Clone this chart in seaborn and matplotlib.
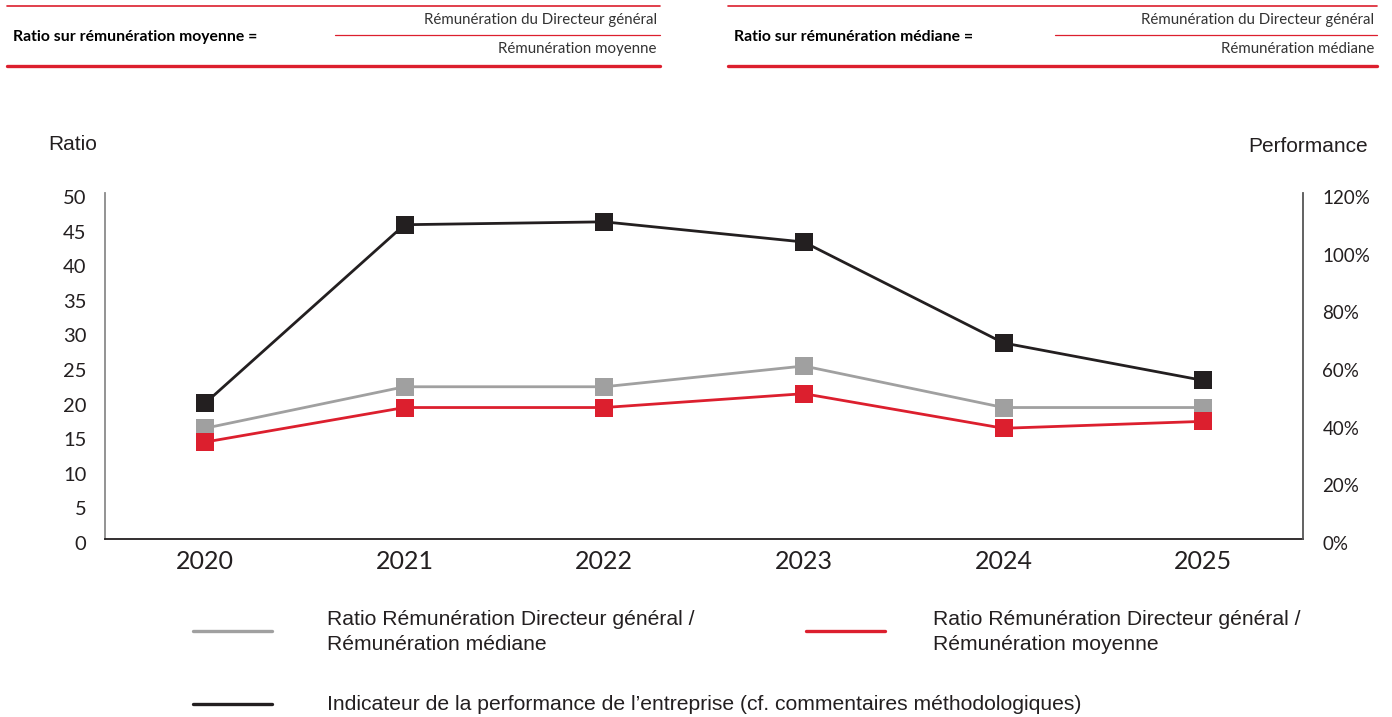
import matplotlib
matplotlib.use("Agg")
import matplotlib.pyplot as plt
import seaborn as sns
from matplotlib.lines import Line2D
from matplotlib.transforms import ScaledTranslation
from matplotlib.ticker import FuncFormatter

# données
annees = ["2020", "2021", "2022", "2023", "2024", "2025"]
ratio_mediane = [16, 22, 22, 25, 19, 19]
ratio_moyenne = [14, 19, 19, 21, 16, 17]
performance = [47, 109, 110, 103, 68, 55]  # en %

gris = "#a0a0a0"
rouge = "#dc1f2e"
noir = "#231f20"

sns.set_style("white")
plt.rcParams["font.family"] = ["Lato", "DejaVu Sans"]

W, H = 1392, 717
fig = plt.figure(figsize=(W / 100, H / 100), dpi=100)


def fx(px):
    return px / W


def fy(py):
    return 1 - py / H


ax = fig.add_axes([fx(105), fy(539), fx(1303) - fx(105), fy(193) - fy(539)])
ax2 = ax.twinx()

sns.lineplot(x=annees, y=ratio_mediane, ax=ax, color=gris, lw=2.0,
             marker="s", markersize=13, markeredgewidth=0, sort=False)
sns.lineplot(x=annees, y=ratio_moyenne, ax=ax, color=rouge, lw=2.0,
             marker="s", markersize=13, markeredgewidth=0, sort=False)
sns.lineplot(x=annees, y=performance, ax=ax2, color=noir, lw=2.0,
             marker="s", markersize=13, markeredgewidth=0, sort=False)

ax.set_xlim(-0.5, 5.5)
ax.set_ylim(0, 50)
ax2.set_ylim(0, 120)
ax.set_yticks(range(0, 51, 5))
ax2.set_yticks(range(0, 121, 20))
ax2.yaxis.set_major_formatter(FuncFormatter(lambda v, p: f"{int(v)}%"))
ax.set_xlabel("")
ax.set_ylabel("")
ax2.set_ylabel("")

ax.tick_params(axis="y", length=0, pad=13.5, labelsize=14.5, labelcolor=noir)
ax.tick_params(axis="x", length=0, pad=8, labelsize=18, labelcolor=noir)
ax2.tick_params(axis="y", length=0, pad=14, labelsize=13.5, labelcolor=noir)

decal = ScaledTranslation(0, -4 / 100, fig.dpi_scale_trans)
for lab in ax.get_yticklabels() + ax2.get_yticklabels():
    lab.set_transform(lab.get_transform() + decal)

for a in (ax, ax2):
    for s in ("top", "left", "right", "bottom"):
        a.spines[s].set_visible(False)
ax.spines["left"].set_visible(True)
ax.spines["left"].set_color("#8a8a8a")
ax.spines["left"].set_linewidth(1.3)
ax.spines["bottom"].set_visible(True)
ax.spines["bottom"].set_color(noir)
ax.spines["bottom"].set_linewidth(1.3)
ax2.spines["right"].set_visible(True)
ax2.spines["right"].set_color("#555555")
ax2.spines["right"].set_linewidth(1.3)

# titres des axes
fig.text(fx(48), fy(144), "Ratio", fontsize=15, family="Liberation Sans",
         color=noir, va="center", ha="left")
fig.text(fx(1368), fy(146), "Performance", fontsize=15, family="Liberation Sans",
         color=noir, va="center", ha="right")

# en-têtes (formules)
entetes = [
    (7, 660, 335, "Ratio sur rémunération moyenne =", "Rémunération moyenne"),
    (728, 1377, 1055, "Ratio sur rémunération médiane =", "Rémunération médiane"),
]
for x0, x1, xm, titre, denom in entetes:
    fig.add_artist(Line2D([fx(x0), fx(x1)], [fy(6), fy(6)], color=rouge, lw=1.2))
    fig.add_artist(Line2D([fx(xm), fx(x1)], [fy(35), fy(35)], color=rouge, lw=0.9))
    fig.add_artist(Line2D([fx(x0), fx(x1)], [fy(66), fy(66)], color=rouge, lw=2.4))
    fig.text(fx(x0 + 6), fy(37), titre, fontsize=11.3, fontweight="bold",
             color="black", va="center", ha="left")
    fig.text(fx(x1 - 3), fy(20), "Rémunération du Directeur général", fontsize=10.8,
             color="#333333", va="center", ha="right")
    fig.text(fx(x1 - 3), fy(49), denom, fontsize=10.8,
             color="#333333", va="center", ha="right")

# légende
legende = [
    (193, 631, gris, 327, "Ratio Rémunération Directeur général /\nRémunération médiane"),
    (806, 631, rouge, 933, "Ratio Rémunération Directeur général /\nRémunération moyenne"),
    (193, 704, noir, 327, "Indicateur de la performance de l’entreprise (cf. commentaires méthodologiques)"),
]
for xl, yl, c, xt, txt in legende:
    fig.add_artist(Line2D([fx(xl), fx(xl + 79)], [fy(yl), fy(yl)], color=c, lw=2.4))
    fig.text(fx(xt), fy(yl + 1), txt, fontsize=15.2, family="Liberation Sans",
             color=noir, va="center", ha="left", linespacing=1.35)

fig.savefig("out.png", dpi=100)
